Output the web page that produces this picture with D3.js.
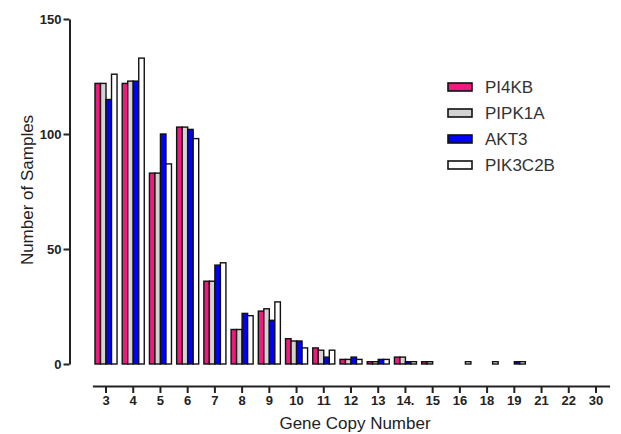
<!DOCTYPE html>
<html>
<head>
<meta charset="utf-8">
<script src="https://cdn.jsdelivr.net/npm/d3@7/dist/d3.min.js"></script>
<style>
  html, body { margin: 0; padding: 0; background: #fff; }
  svg { display: block; }
</style>
</head>
<body>
<svg id="chart" width="621" height="434"></svg>
<script>
const categories = ["3","4","5","6","7","8","9","10","11","12","13","14.","15","16","18","19","21","22","30"];
const seriesNames = ["PI4KB","PIPK1A","AKT3","PIK3C2B"];
const PI4KB   = [122,122,83,103,36,15,23,11,7,2,1,3,1,0,0,0,0,0,0];
const PIPK1A  = [122,123,83,103,36,15,24,10,6,2,1,3,1,0,0,0,0,0,0];
const AKT3    = [115,123,100,102,43,22,19,10,3,3,2,1,0,0,0,1,0,0,0];
const PIK3C2B = [126,133,87,98,44,21,27,7,6,2,2,1,0,1,1,1,0,0,0];
const yTicks = [0,50,100,150];
const colors = ["#f0197d","#d3d3d3","#0000ff","#ffffff"];

const seriesValues = [PI4KB, PIPK1A, AKT3, PIK3C2B];
const svg = d3.select("#chart");
const font = "'Liberation Sans', Arial, sans-serif";

const x = d3.scaleBand().domain(categories).range([92.4, 609.6]).paddingInner(0.19).paddingOuter(0.095);
const xs = d3.scaleBand().domain(seriesNames).range([0, x.bandwidth()]);
const y = d3.scaleLinear().domain([0,150]).range([364, 19]);

// bars
const rows = [];
categories.forEach((c, i) => {
  seriesNames.forEach((s, j) => {
    rows.push({c, s, j, v: seriesValues[j][i]});
  });
});
svg.append("g").selectAll("rect").data(rows.filter(d => d.v > 0)).join("rect")
  .attr("x", d => x(d.c) + xs(d.s))
  .attr("y", d => y(d.v))
  .attr("width", xs.bandwidth())
  .attr("height", d => y(0) - y(d.v))
  .attr("fill", d => colors[d.j])
  .attr("stroke", "#111")
  .attr("stroke-width", 1.4);

// y axis
const yAxis = svg.append("g").attr("transform", "translate(69.5,0)")
  .call(d3.axisLeft(y).tickValues(yTicks).tickSize(6).tickPadding(2).tickSizeOuter(0));
yAxis.select(".domain").attr("stroke", "#222").attr("stroke-width", 2);
yAxis.selectAll(".tick line").attr("stroke", "#222").attr("stroke-width", 2);
yAxis.selectAll(".tick text").attr("font-family", font).attr("font-size", 13)
  .attr("font-weight", "bold").attr("fill", "#222");

// x axis
const xAxis = svg.append("g").attr("transform", "translate(0,386)")
  .call(d3.axisBottom(x).tickSize(7).tickPadding(3).tickSizeOuter(0));
xAxis.select(".domain").attr("stroke", "#222").attr("stroke-width", 2);
xAxis.selectAll(".tick line").attr("stroke", "#222").attr("stroke-width", 2);
xAxis.selectAll(".tick text").attr("font-family", font).attr("font-size", 13)
  .attr("font-weight", "bold").attr("fill", "#222");

// axis titles
svg.append("text").attr("x", 355).attr("y", 429).attr("text-anchor", "middle")
  .attr("font-family", font).attr("font-size", 17).attr("fill", "#222").text("Gene Copy Number");
svg.append("text").attr("transform", "translate(33,190) rotate(-90)").attr("text-anchor", "middle")
  .attr("font-family", font).attr("font-size", 17).attr("fill", "#222").text("Number of Samples");

// legend
const lg = svg.append("g");
const ly = d3.scalePoint().domain(seriesNames).range([87, 165]);
seriesNames.forEach((s, j) => {
  lg.append("rect").attr("x", 448).attr("y", ly(s) - 4).attr("width", 24).attr("height", 8)
    .attr("fill", colors[j]).attr("stroke", "#111").attr("stroke-width", 1.6);
  lg.append("text").attr("x", 485).attr("y", ly(s) + 6).attr("font-family", font)
    .attr("font-size", 17).attr("fill", "#333").text(s);
});
</script>
</body>
</html>
